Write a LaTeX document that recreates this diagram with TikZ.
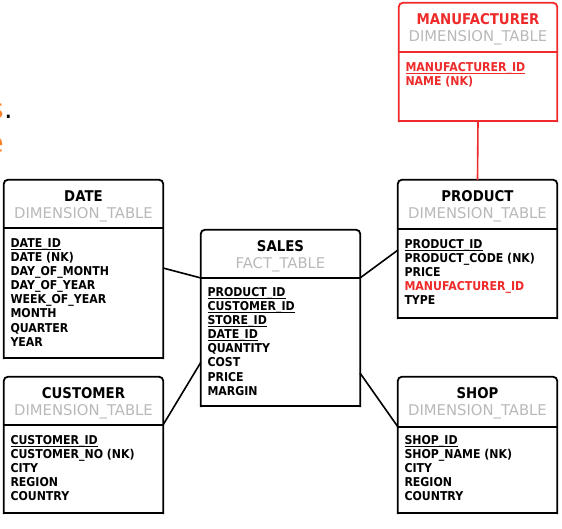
\documentclass[tikz,border=0pt]{standalone}
\usepackage{fontspec}
\setmainfont{DejaVu Sans}
\newfontfamily\cf{DejaVu Sans}[FakeStretch=0.9]
\usetikzlibrary{fit}
\definecolor{mred}{RGB}{238,42,42}
\definecolor{subg}{RGB}{185,185,185}
\definecolor{orng}{RGB}{250,130,40}
\newcommand\ulx[1]{\setbox0\hbox{#1}\rlap{\rule[-2.1pt]{\wd0}{0.8pt}}\box0}
\tikzset{
  frame/.style={line width=1.8pt, line cap=rect, line join=miter},
  divline/.style={line width=1.4pt},
  conn/.style={line width=1.6pt},
  ttl/.style={font=\cf\bfseries\fontsize{14.8}{15}\selectfont, inner sep=0, anchor=base},
  subt/.style={font=\fontsize{14.8}{15}\selectfont, text=subg, inner sep=0, anchor=base},
  rowtxt/.style={font=\cf\bfseries\fontsize{12.2}{13}\selectfont, inner sep=0, anchor=base west, xshift=6.5pt},
  boxn/.style={inner sep=0, draw=none},
  bigtxt/.style={font=\fontsize{27}{28}\selectfont, inner sep=0},
}
% name, corner1, corner2, ydiv, colour, title, subtitle
\newcommand\mktable[7]{%
  \node[boxn, fit={(#2) (#3)}] (#1) {};
  \draw[frame, draw=#5, rounded corners=4pt] (#1.south west) -- (#1.north west) -- (#1.north east) -- (#1.south east);
  \draw[frame, draw=#5] (#1.south east) -- (#1.south west);
  \coordinate (#1-div) at (0,#4);
  \draw[divline, draw=#5] (#1.west |- #1-div) -- (#1.east |- #1-div);
  \node[ttl, text=#5] (#1-title) at ([yshift=-21.8pt]#1.north) {#6};
  \node[subt] (#1-sub) at ([yshift=-38.4pt]#1.north) {#7};
}
% name, ydiv, colour, rows
\newcommand\mkrows[4]{%
  \foreach \r [count=\i] in {#4} {
    \pgfmathsetmacro\yy{#2+19.4+(\i-1)*14.1}
    \node[rowtxt, text=#3] (#1-r\i) at (#1.west |- 0,\yy) {\r};
  }
}
\begin{document}
\begin{tikzpicture}[x=1pt,y=-1pt]
\useasboundingbox (0,0) rectangle (562,528);
\fill[white] (0,0) rectangle (562,528);
\clip (0,0) rectangle (562,528);

% partial text at the left edge
\node[bigtxt, anchor=base east, text=orng] (sfrag) at (4,118) {s};
\node[bigtxt, anchor=base west] (dotfrag) at (4,118) {.};
\node[bigtxt, anchor=base east, text=orng] (efrag) at (4,152) {e};

\mktable{manuf}{399,3}{557,121}{52}{mred}{MANUFACTURER}{DIMENSION\_TABLE}
\mkrows{manuf}{52}{mred}{\ulx{MANUFACTURER\_ID},NAME (NK)}

\mktable{product}{398,180}{557,318}{229}{black}{PRODUCT}{DIMENSION\_TABLE}
\mkrows{product}{229}{black}{\ulx{PRODUCT\_ID},PRODUCT\_CODE (NK),PRICE,{\color{mred}MANUFACTURER\_ID},TYPE}

\mktable{date}{4,180}{163,358}{228}{black}{DATE}{DIMENSION\_TABLE}
\mkrows{date}{228}{black}{\ulx{DATE\_ID},DATE (NK),DAY\_OF\_MONTH,DAY\_OF\_YEAR,WEEK\_OF\_YEAR,MONTH,QUARTER,YEAR}

\mktable{sales}{201,230}{360,406}{278}{black}{SALES}{FACT\_TABLE}
\mkrows{sales}{277}{black}{\ulx{PRODUCT\_ID},\ulx{CUSTOMER\_ID},\ulx{STORE\_ID},\ulx{DATE\_ID},QUANTITY,COST,PRICE,MARGIN}

\mktable{customer}{4,377}{163,513}{425}{black}{CUSTOMER}{DIMENSION\_TABLE}
\mkrows{customer}{425}{black}{\ulx{CUSTOMER\_ID},CUSTOMER\_NO (NK),CITY,REGION,COUNTRY}

\mktable{shop}{398,377}{557,513}{427}{black}{SHOP}{DIMENSION\_TABLE}
\mkrows{shop}{425}{black}{\ulx{SHOP\_ID},SHOP\_NAME (NK),CITY,REGION,COUNTRY}

% connector end points
\coordinate (dateOut) at (163,268);
\coordinate (salesInD) at (201,278);
\coordinate (salesOutP) at (360,278);
\coordinate (productIn) at (398,250);
\coordinate (customerOut) at (163,425);
\coordinate (salesInC) at (201,362);
\coordinate (salesOutS) at (360,373);
\coordinate (shopIn) at (398,427);

\draw[conn] (dateOut) -- (salesInD);
\draw[conn] (salesOutP) -- (productIn);
\draw[conn] (customerOut) -- (salesInC);
\draw[conn] (salesOutS) -- (shopIn);
\draw[conn, draw=mred] (manuf.south) -- (product.north);
\end{tikzpicture}
\end{document}
